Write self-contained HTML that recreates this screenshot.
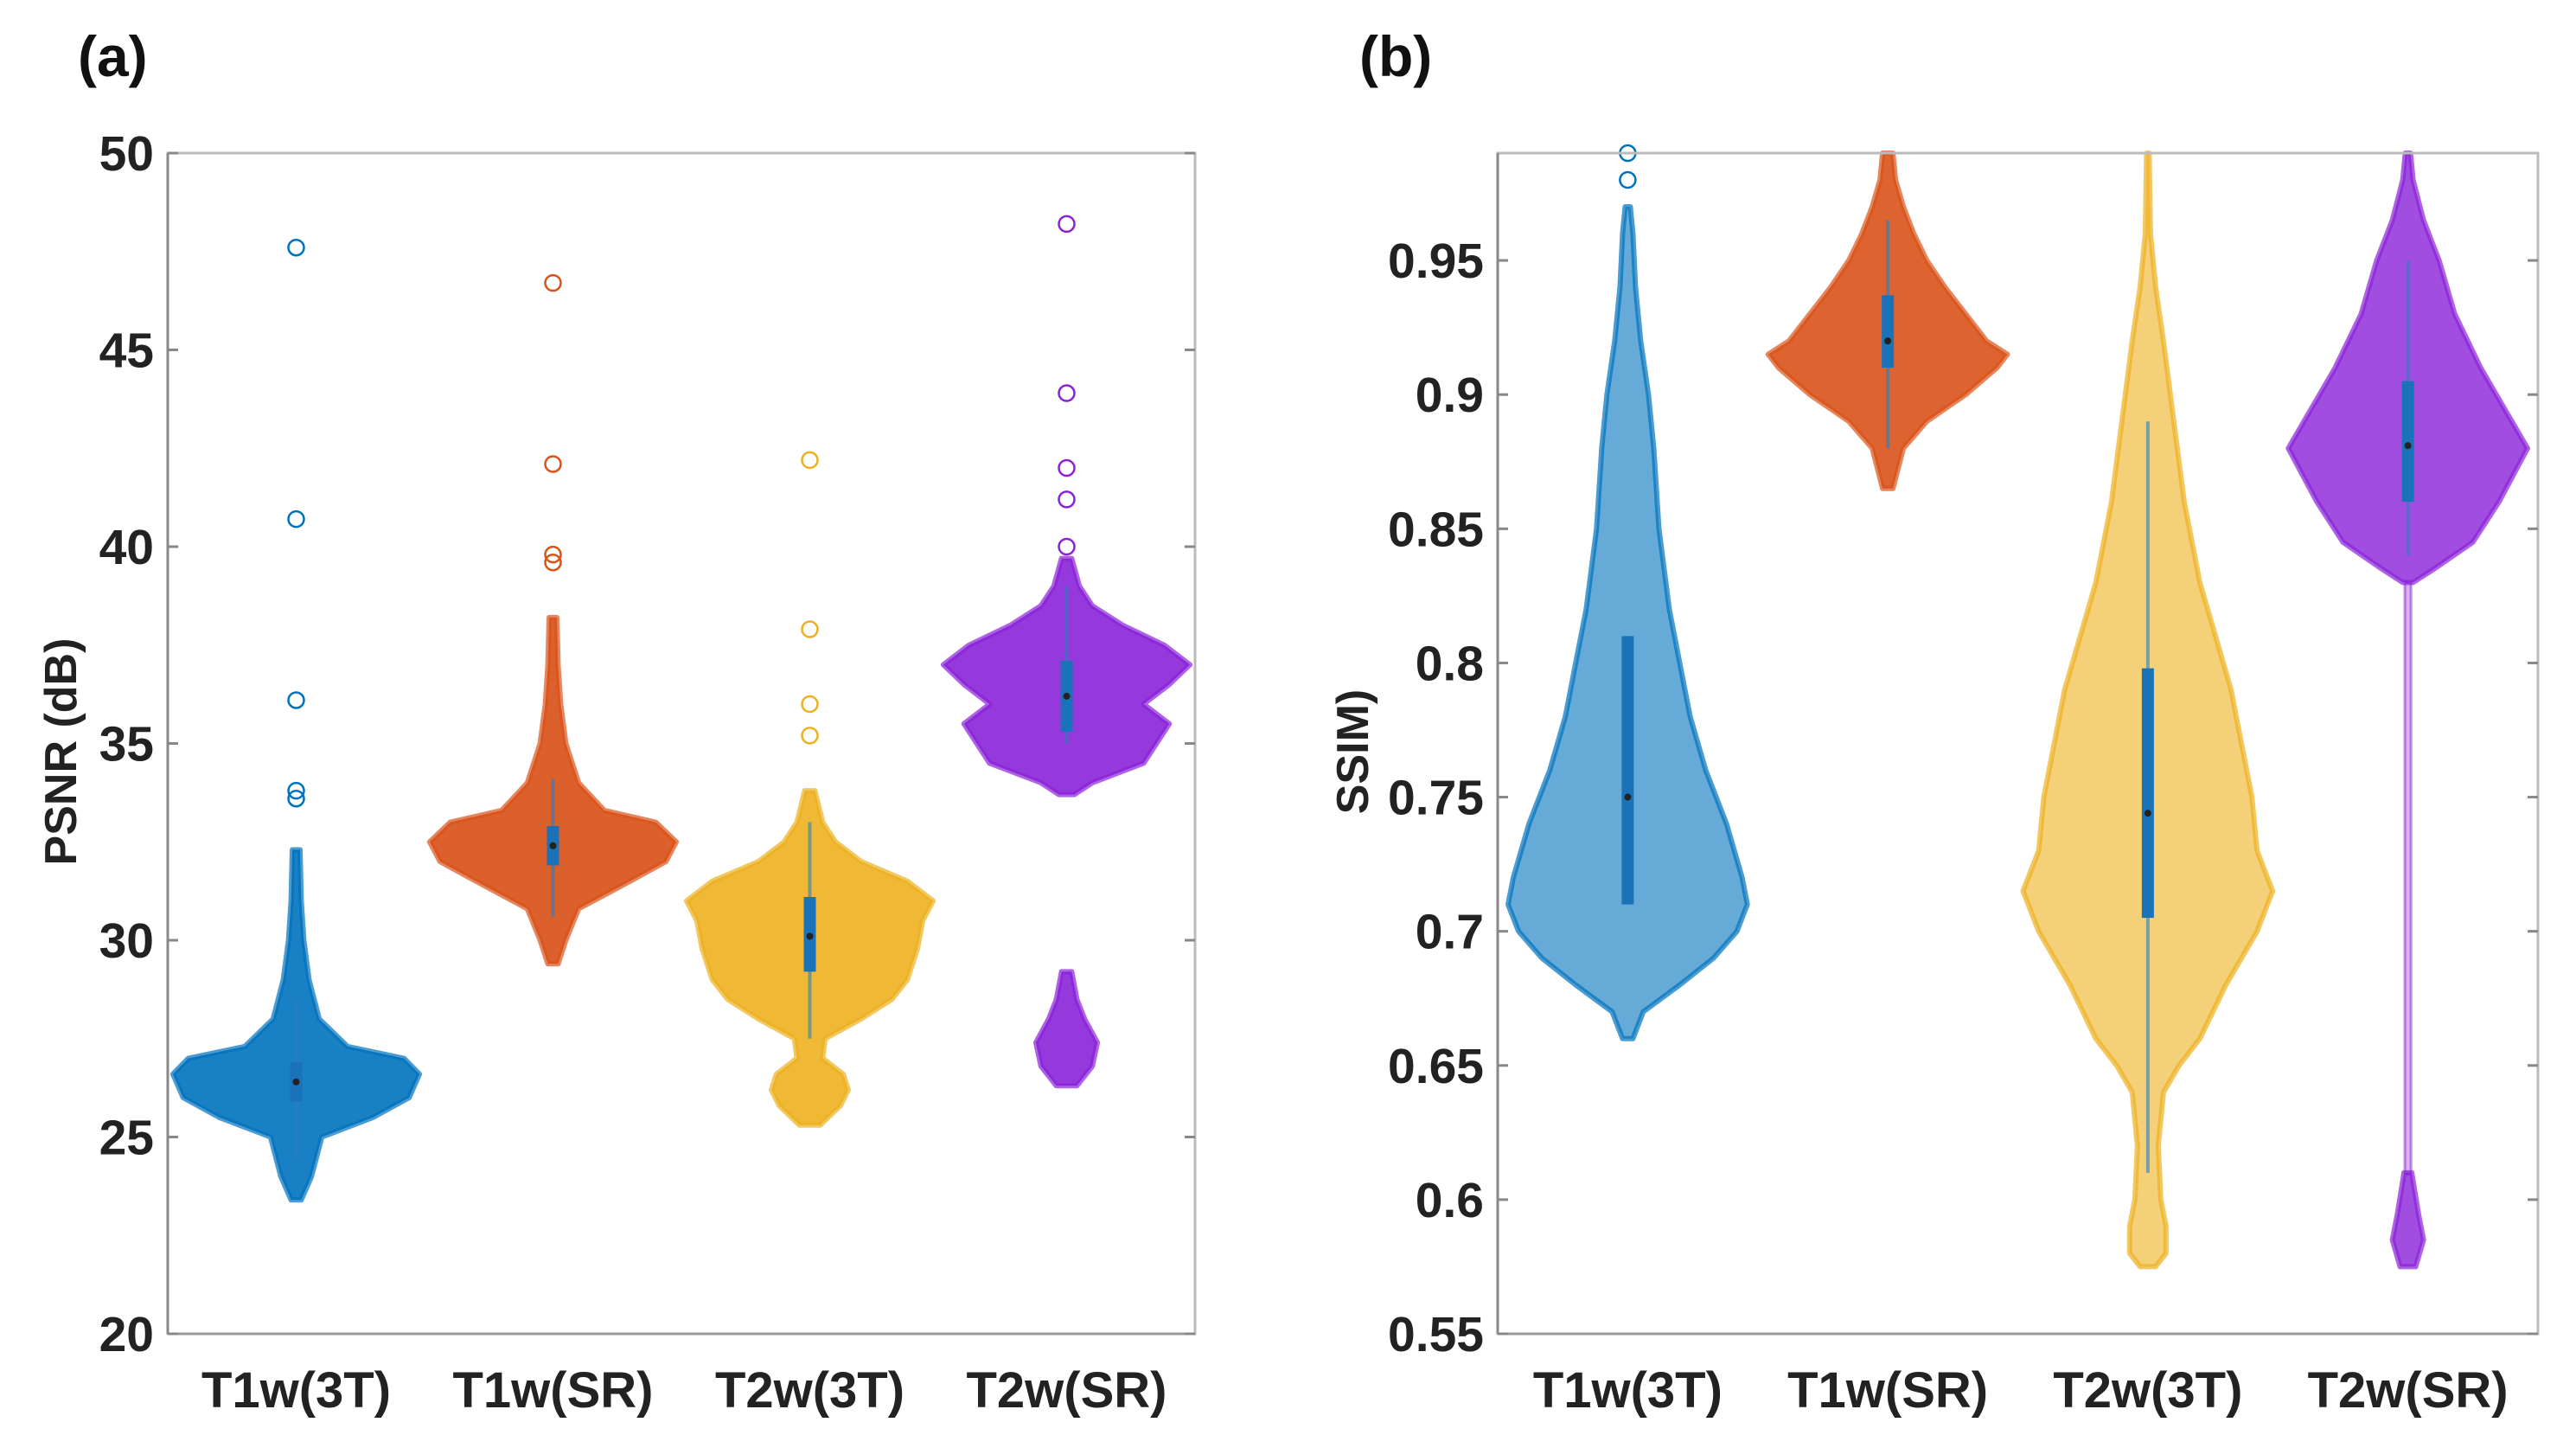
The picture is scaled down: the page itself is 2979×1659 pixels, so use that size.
<!DOCTYPE html>
<html><head><meta charset="utf-8"><style>
html,body{margin:0;padding:0;background:#fff;}
svg{display:block;font-family:"Liberation Sans",sans-serif;font-weight:bold;}
</style></head><body>
<svg id="fig" width="2979" height="1659" viewBox="0 0 2979 1659" xmlns="http://www.w3.org/2000/svg">
<text x="90" y="88" font-size="66" fill="#111">(a)</text>
<text x="1572" y="88" font-size="66" fill="#111">(b)</text>
<g id="pa"></g>
<g id="pb"></g>
</svg>
<script>
const categories = ["T1w(3T)","T1w(SR)","T2w(3T)","T2w(SR)"];
const colors = ["#0072BD","#D95319","#EDB120","#8A22D8"];
// Panel a (PSNR) violin profiles: [value, half-width in category units]
const psnrT1w3T = [[23.4,0.02],[24,0.06],[25,0.1],[25.5,0.3],[26,0.44],[26.6,0.48],[27,0.42],[27.3,0.2],[28,0.09],[29,0.05],[30,0.03],[31,0.02],[32.3,0.015]];
const psnrT1wSR = [[29.4,0.02],[30,0.05],[30.8,0.1],[31.5,0.3],[32,0.44],[32.5,0.48],[33,0.4],[33.3,0.2],[34,0.1],[35,0.05],[36,0.03],[37,0.02],[38.2,0.015]];
const psnrT2w3T = [[25.3,0.04],[25.8,0.12],[26.2,0.15],[26.6,0.13],[27,0.05],[27.5,0.06],[28,0.2],[28.5,0.32],[29,0.38],[29.8,0.42],[30.5,0.44],[31,0.48],[31.5,0.38],[32,0.2],[32.5,0.1],[33,0.05],[33.8,0.02]];
const psnrT2wSRlow = [[26.3,0.04],[26.8,0.1],[27.4,0.12],[28,0.07],[28.5,0.04],[29.2,0.02]];
const psnrT2wSR = [[33.7,0.03],[34,0.1],[34.5,0.3],[35,0.35],[35.5,0.4],[36,0.3],[36.5,0.4],[37,0.48],[37.5,0.38],[38,0.22],[38.5,0.1],[39,0.05],[39.7,0.02]];
const psnrOutliers = [[33.6,33.8,36.1,40.7,47.6],[39.6,39.8,42.1,46.7],[35.2,36,37.9,42.2],[40,41.2,42,43.9,48.2]];
// box stats: [whiskerLo, q1, median, q3, whiskerHi]
const psnrBox = [[24.5,25.9,26.4,26.9,28.5],[30.6,31.9,32.4,32.9,34.1],[27.5,29.2,30.1,31.1,33],[35,35.3,36.2,37.1,39]];
const psnrTicks = [20,25,30,35,40,45,50];
// Panel b (SSIM)
const ssimT1w3T = [[0.66,0.02],[0.67,0.06],[0.68,0.2],[0.69,0.33],[0.70,0.42],[0.71,0.46],[0.72,0.44],[0.74,0.38],[0.76,0.3],[0.78,0.24],[0.80,0.2],[0.82,0.16],[0.85,0.12],[0.88,0.1],[0.90,0.08],[0.92,0.05],[0.94,0.03],[0.96,0.02],[0.97,0.01]];
const ssimT1wSR = [[0.865,0.02],[0.88,0.06],[0.89,0.15],[0.90,0.3],[0.91,0.42],[0.915,0.46],[0.92,0.38],[0.93,0.3],[0.94,0.22],[0.95,0.15],[0.96,0.1],[0.97,0.06],[0.98,0.03],[0.99,0.02]];
const ssimT2w3T = [[0.575,0.03],[0.58,0.07],[0.59,0.07],[0.60,0.05],[0.62,0.04],[0.64,0.06],[0.65,0.12],[0.66,0.2],[0.68,0.3],[0.70,0.42],[0.715,0.48],[0.73,0.42],[0.75,0.4],[0.77,0.36],[0.79,0.32],[0.81,0.26],[0.83,0.2],[0.86,0.14],[0.89,0.1],[0.92,0.06],[0.94,0.03],[0.96,0.01],[0.99,0.005]];
const ssimT2wSRlow = [[0.575,0.03],[0.585,0.06],[0.595,0.04],[0.61,0.015]];
const ssimT2wSRmid = [[0.61,0.012],[0.83,0.012]];
const ssimT2wSR = [[0.83,0.02],[0.835,0.1],[0.845,0.25],[0.86,0.35],[0.88,0.46],[0.89,0.4],[0.91,0.28],[0.93,0.18],[0.95,0.12],[0.965,0.06],[0.98,0.02],[0.99,0.01]];
const ssimOutliers = [[0.98,0.99],[],[],[]];
const ssimBox = [[0.71,0.71,0.75,0.81,0.81],[0.88,0.91,0.92,0.937,0.965],[0.61,0.705,0.744,0.798,0.89],[0.84,0.86,0.881,0.905,0.95]];
const ssimTicks = [0.55,0.6,0.65,0.7,0.75,0.8,0.85,0.9,0.95];
const ssimTickLabels = ["0.55","0.6","0.65","0.7","0.75","0.8","0.85","0.9","0.95"];

const NS="http://www.w3.org/2000/svg";
function mk(tag,parent,attrs){const e=document.createElementNS(NS,tag);for(const k in attrs)e.setAttribute(k,attrs[k]);parent.appendChild(e);return e;}

function drawPanel(g,cfg){
  const {x0,x1,y0,y1,ymin,ymax,ticks,labels,ylabel,ylabX,violins,outliers,boxes,opac}=cfg;
  const sx=(x1-x0)/4;
  const X=c=>x0+(c+0.5)*sx;
  const Y=v=>y1-(v-ymin)/(ymax-ymin)*(y1-y0);
  violins.forEach((list,ci)=>{
    list.forEach((prof,pi)=>{
      let d="";
      prof.forEach((p,i)=>{d+=(i?"L":"M")+(X(ci)+p[1]*sx).toFixed(1)+","+Y(p[0]).toFixed(1);});
      for(let i=prof.length-1;i>=0;i--){const p=prof[i];d+="L"+(X(ci)-p[1]*sx).toFixed(1)+","+Y(p[0]).toFixed(1);}
      d+="Z";
      const thin = prof.length===2;
      const v=mk("path",g,{d:d,fill:colors[ci],"fill-opacity":thin?0.35:opac[ci],stroke:colors[ci],"stroke-width":thin?3:6,"stroke-opacity":thin?0.5:0.7,"stroke-linejoin":"round"});
      
      
    });
  });
  outliers.forEach((list,ci)=>{
    list.forEach(v=>{
      const c=mk("circle",g,{cx:X(ci),cy:Y(v),r:9,fill:"none",stroke:colors[ci],"stroke-width":2.5});
      
      
    });
  });
  boxes.forEach((b,ci)=>{
    const w=mk("line",g,{x1:X(ci),x2:X(ci),y1:Y(b[0]),y2:Y(b[4]),stroke:"#2a7fc0","stroke-width":4,"stroke-opacity":0.6});
    
    
    const q=mk("line",g,{x1:X(ci),x2:X(ci),y1:Y(b[1]),y2:Y(b[3]),stroke:"#1a72b8","stroke-width":14});
    
    
    const m=mk("circle",g,{cx:X(ci),cy:Y(b[2]),r:4,fill:"#222"});
    
    
  });
  const ax=mk("rect",g,{x:x0,y:y0,width:x1-x0,height:y1-y0,fill:"none",stroke:"#bbb","stroke-width":3});
  
  
  mk("line",g,{x1:x0,x2:x0,y1:y0,y2:y1,stroke:"#888","stroke-width":3});
  mk("line",g,{x1:x0,x2:x1,y1:y1,y2:y1,stroke:"#999","stroke-width":3});
  ticks.forEach((t,i)=>{
    const y=Y(t);
    mk("line",g,{x1:x0,x2:x0+12,y1:y,y2:y,stroke:"#888","stroke-width":3});
    mk("line",g,{x1:x1-12,x2:x1,y1:y,y2:y,stroke:"#888","stroke-width":3});
    const tx=mk("text",g,{x:x0-16,y:y+20,"font-size":57,"text-anchor":"end",fill:"#222"});
    tx.textContent=labels[i];
    
    
  });
  categories.forEach((c,ci)=>{
    const tx=mk("text",g,{x:X(ci),y:1627,"font-size":58,"text-anchor":"middle",fill:"#222"});
    tx.textContent=c;
    
    
  });
  const yl=mk("text",g,{x:0,y:0,"font-size":52,"text-anchor":"middle",fill:"#222",transform:`translate(${ylabX},869) rotate(-90)`});
  yl.textContent=ylabel;
  
  
}

drawPanel(document.getElementById('pa'),{x0:194,x1:1382,y0:177,y1:1542,ymin:20,ymax:50,
  ticks:psnrTicks,labels:psnrTicks.map(String),ylabel:"PSNR (dB)",ylabX:88,
  violins:[[psnrT1w3T],[psnrT1wSR],[psnrT2w3T],[psnrT2wSRlow,psnrT2wSR]],
  outliers:psnrOutliers,boxes:psnrBox,opac:[0.9,0.92,0.9,0.9]});
drawPanel(document.getElementById('pb'),{x0:1732,x1:2935,y0:177,y1:1542,ymin:0.55,ymax:0.99,
  ticks:ssimTicks,labels:ssimTickLabels,ylabel:"SSIM)",ylabX:1582,
  violins:[[ssimT1w3T],[ssimT1wSR],[ssimT2w3T],[ssimT2wSRlow,ssimT2wSRmid,ssimT2wSR]],
  outliers:ssimOutliers,boxes:ssimBox,opac:[0.6,0.9,0.6,0.8]});
</script>
</body></html>
